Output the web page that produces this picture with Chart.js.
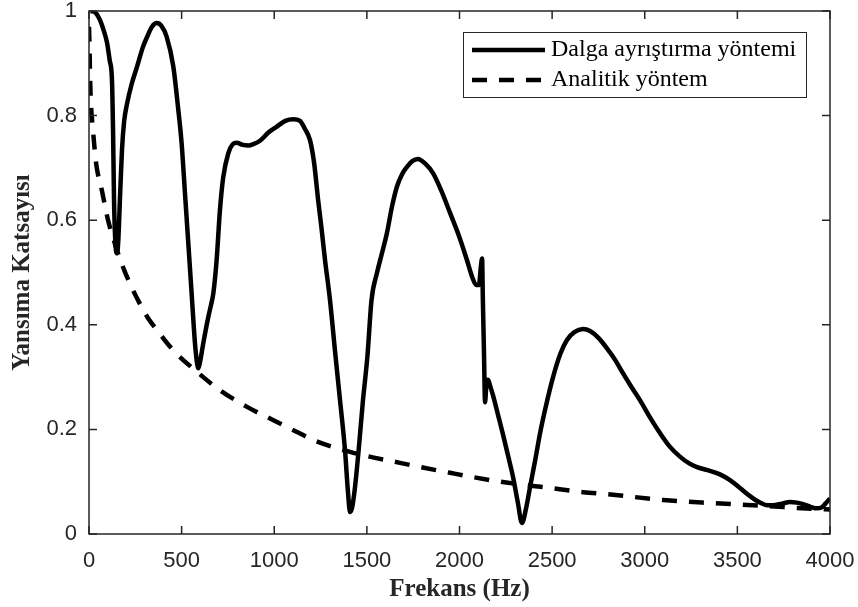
<!DOCTYPE html>
<html>
<head>
<meta charset="utf-8">
<title>Yansıma Katsayısı</title>
<script src="https://cdn.jsdelivr.net/npm/chart.js@4.4.1/dist/chart.umd.min.js"></script>
<style>
  html, body { margin: 0; padding: 0; background: #fff; }
  #chart { display: block; }
</style>
</head>
<body>
<canvas id="chart" width="858" height="607"></canvas>
<script>
// values
const waveFreq = [10, 35, 59, 80, 97, 112, 124, 130, 135, 142, 151, 158, 167, 178, 190, 205, 230, 259, 290, 313, 340, 365, 390, 419, 455, 482, 500, 518, 536, 554, 572, 582, 590, 600, 617, 644, 660, 671, 689, 707, 725, 752, 775, 797, 830, 860, 890, 923, 970, 1014, 1060, 1103, 1139, 1165, 1193, 1215, 1237, 1255, 1274, 1301, 1328, 1355, 1382, 1398, 1409, 1420, 1436, 1458, 1479, 1503, 1525, 1555, 1580, 1608, 1635, 1662, 1690, 1717, 1745, 1776, 1815, 1857, 1900, 1949, 2000, 2040, 2070, 2090, 2105, 2115, 2122, 2126, 2132, 2138, 2146, 2154, 2168, 2181, 2210, 2235, 2262, 2289, 2315, 2337, 2360, 2381, 2408, 2435, 2470, 2505, 2545, 2580, 2620, 2667, 2705, 2750, 2796, 2840, 2883, 2930, 2974, 3030, 3082, 3135, 3190, 3240, 3282, 3340, 3406, 3460, 3514, 3570, 3622, 3660, 3692, 3740, 3784, 3820, 3854, 3895, 3930, 3955, 3975, 4000];
const waveVals = [1.0, 0.997, 0.983, 0.962, 0.94, 0.905, 0.868, 0.767, 0.64, 0.56, 0.537, 0.56, 0.64, 0.734, 0.79, 0.822, 0.86, 0.893, 0.93, 0.95, 0.97, 0.977, 0.972, 0.951, 0.894, 0.811, 0.747, 0.652, 0.556, 0.46, 0.365, 0.33, 0.317, 0.33, 0.365, 0.415, 0.44, 0.46, 0.524, 0.62, 0.683, 0.728, 0.745, 0.748, 0.744, 0.743, 0.746, 0.752, 0.768, 0.779, 0.79, 0.793, 0.79, 0.775, 0.753, 0.71, 0.638, 0.585, 0.524, 0.447, 0.35, 0.256, 0.16, 0.08, 0.042, 0.05, 0.09, 0.17, 0.256, 0.34, 0.447, 0.5, 0.535, 0.575, 0.625, 0.664, 0.688, 0.702, 0.713, 0.717, 0.708, 0.69, 0.658, 0.614, 0.567, 0.524, 0.49, 0.476, 0.476, 0.51, 0.527, 0.45, 0.35, 0.252, 0.29, 0.295, 0.28, 0.265, 0.225, 0.19, 0.15, 0.109, 0.06, 0.021, 0.05, 0.09, 0.14, 0.193, 0.25, 0.3, 0.345, 0.371, 0.386, 0.392, 0.388, 0.375, 0.355, 0.333, 0.307, 0.28, 0.256, 0.222, 0.193, 0.167, 0.148, 0.135, 0.128, 0.122, 0.114, 0.103, 0.088, 0.072, 0.06, 0.055, 0.055, 0.058, 0.061, 0.06, 0.057, 0.052, 0.049, 0.051, 0.058, 0.068];

const analyticFreq = [0, 3, 6, 11, 22, 38, 70, 103, 140, 184, 230, 275, 320, 367, 453, 583, 707, 853, 993, 1123, 1209, 1409, 1679, 1949, 2219, 2489, 2667, 2829, 3099, 3368, 3638, 3908, 4000];
const analyticVals = [0.97, 0.93, 0.87, 0.82, 0.77, 0.71, 0.656, 0.6, 0.555, 0.51, 0.472, 0.44, 0.412, 0.39, 0.352, 0.31, 0.275, 0.243, 0.218, 0.195, 0.18, 0.157, 0.136, 0.117, 0.1, 0.088, 0.08, 0.075, 0.065, 0.059, 0.054, 0.048, 0.047];

const xTicks = [0, 500, 1000, 1500, 2000, 2500, 3000, 3500, 4000];
const xTickLabels = ['0', '500', '1000', '1500', '2000', '2500', '3000', '3500', '4000'];
const yTicks = [0, 0.2, 0.4, 0.6, 0.8, 1];
const yTickLabels = ['0', '0.2', '0.4', '0.6', '0.8', '1'];
const seriesNames = ['Dalga ayrıştırma yöntemi', 'Analitik yöntem'];

const axisColor = '#262626';
const dashPattern = [15, 12];

function toPoints(xs, ys) {
  return xs.map((x, i) => ({ x: x, y: ys[i] }));
}

// MATLAB-style box with inward ticks on all four sides
const framePlugin = {
  id: 'frame',
  afterDatasetsDraw(chart) {
    const { ctx, chartArea: a, scales } = chart;
    const len = 8;
    ctx.save();
    ctx.strokeStyle = axisColor;
    ctx.lineWidth = 1.5;
    ctx.strokeRect(a.left, a.top, a.right - a.left, a.bottom - a.top);
    ctx.beginPath();
    xTicks.forEach(v => {
      const px = scales.x.getPixelForValue(v);
      ctx.moveTo(px, a.bottom); ctx.lineTo(px, a.bottom - len);
      ctx.moveTo(px, a.top); ctx.lineTo(px, a.top + len);
    });
    yTicks.forEach(v => {
      const py = scales.y.getPixelForValue(v);
      ctx.moveTo(a.left, py); ctx.lineTo(a.left + len, py);
      ctx.moveTo(a.right, py); ctx.lineTo(a.right - len, py);
    });
    ctx.stroke();
    ctx.restore();
  }
};

// legend box in the upper right of the plot
const legendPlugin = {
  id: 'boxLegend',
  afterDraw(chart) {
    const { ctx } = chart;
    const box = { left: 463, top: 32, right: 806, bottom: 97 };
    ctx.save();
    ctx.fillStyle = '#fff';
    ctx.fillRect(box.left, box.top, box.right - box.left, box.bottom - box.top);
    ctx.strokeStyle = axisColor;
    ctx.lineWidth = 1;
    ctx.strokeRect(box.left + 0.5, box.top + 0.5, box.right - box.left, box.bottom - box.top);
    ctx.font = '24px "Liberation Serif", "Times New Roman", serif';
    ctx.textBaseline = 'middle';
    ctx.fillStyle = '#000';
    chart.data.datasets.forEach((ds, i) => {
      const y = 50 + i * 30;
      ctx.beginPath();
      ctx.strokeStyle = ds.borderColor;
      ctx.lineWidth = ds.borderWidth;
      ctx.setLineDash(ds.borderDash || []);
      ctx.moveTo(472, y);
      ctx.lineTo(545, y);
      ctx.stroke();
      ctx.setLineDash([]);
      ctx.fillText(ds.label, 551, y);
    });
    ctx.restore();
  }
};

new Chart(document.getElementById('chart'), {
  type: 'line',
  data: {
    datasets: [
      {
        label: seriesNames[0],
        data: toPoints(waveFreq, waveVals),
        borderColor: '#000',
        borderWidth: 4.5,
        pointRadius: 0,
        cubicInterpolationMode: 'monotone',
        fill: false
      },
      {
        label: seriesNames[1],
        data: toPoints(analyticFreq, analyticVals),
        borderColor: '#000',
        borderWidth: 4.5,
        borderDash: dashPattern,
        pointRadius: 0,
        cubicInterpolationMode: 'monotone',
        fill: false
      }
    ]
  },
  options: {
    responsive: false,
    animation: false,
    layout: { padding: { top: 11, right: 28, left: 0, bottom: 0 } },
    plugins: { legend: { display: false }, tooltip: { enabled: false } },
    scales: {
      x: {
        type: 'linear',
        min: 0,
        max: 4000,
        afterBuildTicks: s => { s.ticks = xTicks.map(v => ({ value: v })); },
        afterFit: s => { s.height = 73; s.paddingLeft = 0; s.paddingRight = 0; },
        grid: { display: false, drawTicks: false },
        border: { display: false },
        ticks: {
          color: axisColor,
          padding: 14,
          maxRotation: 0,
          font: { family: '"Liberation Sans", Arial, sans-serif', size: 22 },
          callback: v => xTickLabels[xTicks.indexOf(v)]
        },
        title: {
          display: true,
          text: 'Frekans (Hz)',
          color: axisColor,
          padding: { top: 0, bottom: 2 },
          font: { family: '"Liberation Serif", "Times New Roman", serif', size: 25, weight: 'bold' }
        }
      },
      y: {
        min: 0,
        max: 1,
        afterBuildTicks: s => { s.ticks = yTicks.map(v => ({ value: v })); },
        afterFit: s => { s.width = 89; s.paddingTop = 0; s.paddingBottom = 0; },
        grid: { display: false, drawTicks: false },
        border: { display: false },
        ticks: {
          color: axisColor,
          padding: 12,
          font: { family: '"Liberation Sans", Arial, sans-serif', size: 22 },
          callback: v => yTickLabels[yTicks.indexOf(v)]
        },
        title: {
          display: true,
          text: 'Yansıma Katsayısı',
          color: axisColor,
          padding: { top: 8, bottom: 0 },
          font: { family: '"Liberation Serif", "Times New Roman", serif', size: 25, weight: 'bold' }
        }
      }
    }
  },
  plugins: [framePlugin, legendPlugin]
});
</script>
</body>
</html>
